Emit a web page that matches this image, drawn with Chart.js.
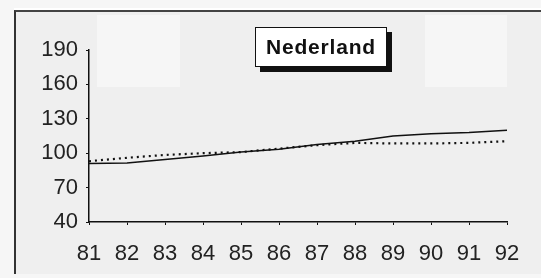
<!DOCTYPE html>
<html>
<head>
<meta charset="utf-8">
<script src="https://cdn.jsdelivr.net/npm/chart.js@4/dist/chart.umd.min.js"></script>
<style>
    html, body { margin: 0; padding: 0; }
    body { width: 541px; height: 278px; background: #f6f6f6; position: relative; overflow: hidden; font-family: 'Liberation Sans', Arial, sans-serif; }
    #frame { position: absolute; left: 14px; top: 10px; width: 540px; height: 262px; background: #efefef; border-left: 2px solid #333; border-top: 2px solid #444; box-shadow: 0 -2px 0 #fff; }
    .patch { position: absolute; background: #f6f6f6; }
    #chartWrap { position: absolute; left: 0; top: 0; width: 541px; height: 278px; }
    #title { position: absolute; left: 255px; top: 27px; width: 130px; height: 38px; background: #fff; border: 1px solid #111; box-shadow: 5px 5px 0 #111; font-weight: bold; font-size: 21px; letter-spacing: 0.8px; line-height: 38px; text-align: center; color: #111; }
</style>
</head>
<body>
<div id="frame"></div>
<div class="patch" style="left:97px;top:15px;width:83px;height:72px;"></div>
<div class="patch" style="left:425px;top:15px;width:82px;height:72px;"></div>
<div id="chartWrap"><canvas id="chart" width="541" height="278"></canvas></div>
<div id="title">Nederland</div>
<script>
const years = ['81', '82', '83', '84', '85', '86', '87', '88', '89', '90', '91', '92'];
const solidSeries = [91, 91.5, 94.5, 97.5, 101, 103.5, 107.5, 110.5, 115, 117, 118, 120];
const dottedSeries = [93, 96, 98.5, 100, 101, 104, 107, 109, 108.5, 108.5, 109, 110.5];
const yMin = 40;
const yMax = 190;
const yStep = 30;

const ctx = document.getElementById('chart').getContext('2d');
new Chart(ctx, {
    type: 'line',
    data: {
        labels: years,
        datasets: [{
            data: solidSeries,
            borderColor: '#111',
            borderWidth: 1.5,
            pointRadius: 0,
            tension: 0
        }, {
            data: dottedSeries,
            borderColor: '#111',
            borderWidth: 2.2,
            borderDash: [2, 4],
            pointRadius: 0,
            tension: 0
        }]
    },
    options: {
        responsive: false,
        animation: false,
        layout: { padding: { left: 0, right: 34, top: 50, bottom: 0 } },
        plugins: { legend: { display: false }, tooltip: { enabled: false } },
        scales: {
            x: {
                offset: false,
                grid: { drawOnChartArea: false, color: '#111', tickLength: 3 },
                border: { color: '#111', width: 1.5 },
                ticks: { color: '#222', font: { family: 'Liberation Sans', size: 22 }, padding: 16, maxRotation: 0, autoSkip: false },
                afterFit: (scale) => { scale.height = 56; }
            },
            y: {
                min: yMin,
                max: yMax,
                grid: { drawOnChartArea: false, color: '#111', tickLength: 3 },
                border: { color: '#111', width: 1.5 },
                ticks: { stepSize: yStep, color: '#222', font: { family: 'Liberation Sans', size: 22 }, padding: 8 },
                afterFit: (scale) => { scale.width = 89; }
            }
        }
    }
});
</script>
</body>
</html>
